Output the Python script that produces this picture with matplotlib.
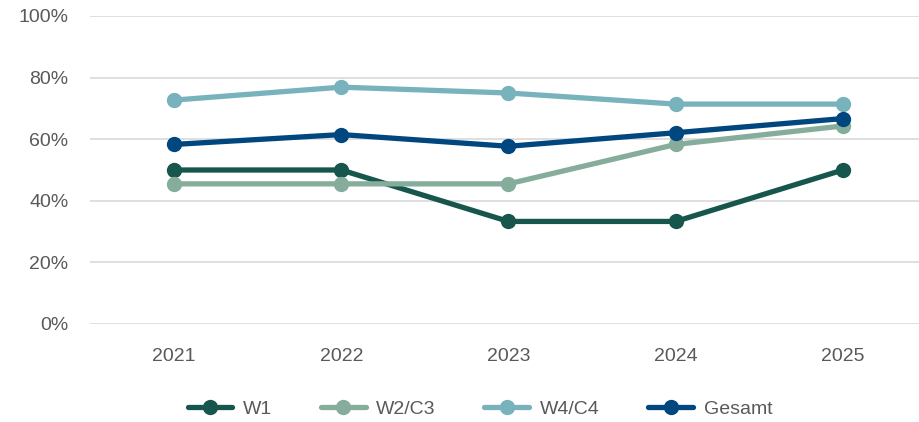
import matplotlib
matplotlib.use("Agg")
import matplotlib.pyplot as plt
from matplotlib.ticker import FuncFormatter

years = ["2021", "2022", "2023", "2024", "2025"]
w1 = [50.0, 50.0, 33.3, 33.3, 50.0]
w2c3 = [45.5, 45.5, 45.5, 58.3, 64.3]
w4c4 = [72.7, 76.9, 75.0, 71.4, 71.4]
gesamt = [58.3, 61.5, 57.7, 62.1, 66.7]

series = [("W1", w1, "#17564c"), ("W2/C3", w2c3, "#86ad9c"),
          ("W4/C4", w4c4, "#78b2bd"), ("Gesamt", gesamt, "#00467f")]

plt.rcParams['font.family'] = ['Liberation Sans', 'DejaVu Sans']

W, H = 920, 422
fig = plt.figure(figsize=(W/100, H/100), dpi=100)
left, right = 90.5, 926.5
top, bottom = 16, 324
ax = fig.add_axes([left/W, 1-bottom/H, (right-left)/W, (bottom-top)/H])

x = list(range(len(years)))
for name, vals, col in series:
    ax.plot(x, vals, color=col, lw=3.8, marker='o', ms=10, label=name,
            solid_capstyle='round', solid_joinstyle='round', clip_on=False)

ax.set_xlim(-0.5, 4.5)
ax.set_ylim(0, 100)
ax.set_yticks([0, 20, 40, 60, 80, 100])
ax.yaxis.set_major_formatter(FuncFormatter(lambda v, p: f"{int(v)}%"))
ax.set_xticks(x)
ax.set_xticklabels(years)
ax.grid(axis='y', color='#d9d9d9', lw=1.2)
ax.set_axisbelow(True)
for s in ax.spines.values():
    s.set_visible(False)
ax.tick_params(length=0, labelsize=14, colors='#595959')
ax.tick_params(axis='y', pad=16)
ax.tick_params(axis='x', pad=17)

fig.legend(loc='center', bbox_to_anchor=(480/W, 1-409/H), ncol=4, frameon=False,
           fontsize=14, labelcolor='#595959', handlelength=2.3, columnspacing=2.5,
           handletextpad=0.55)

fig.savefig("out.png", dpi=100)
